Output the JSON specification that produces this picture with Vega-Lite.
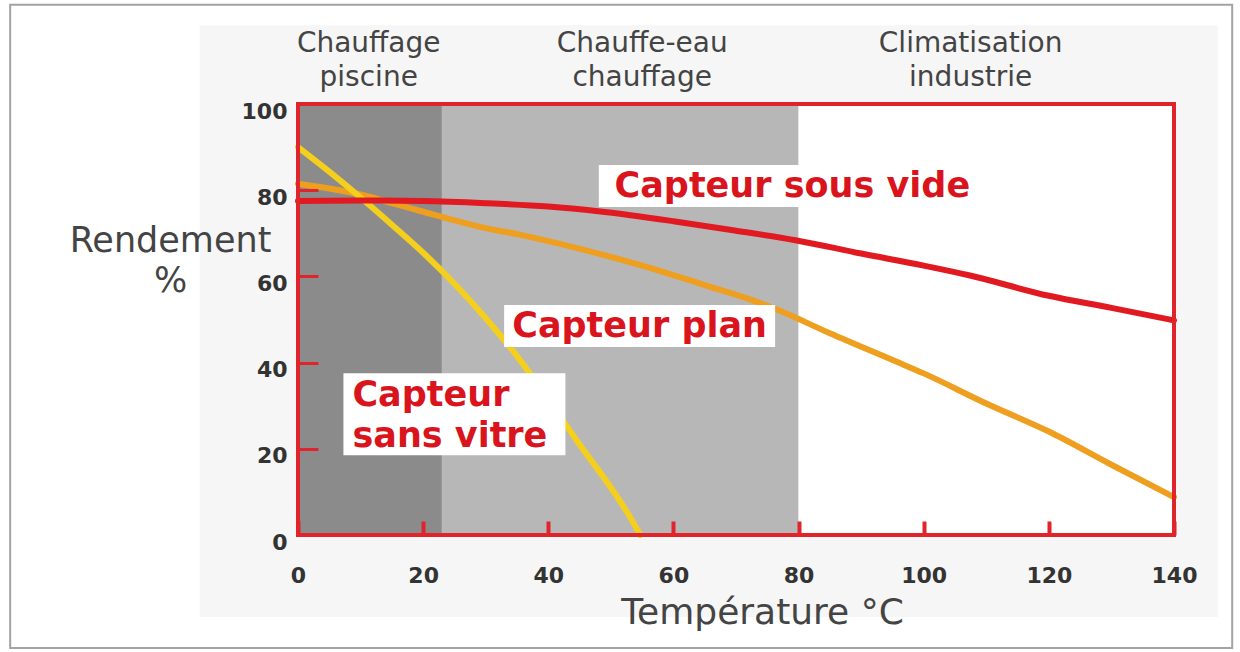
{
  "$schema": "https://vega.github.io/schema/vega-lite/v6.json",
  "width": 876,
  "height": 431,
  "autosize": {"type": "none"},
  "padding": {"left": 298, "top": 104, "right": 66, "bottom": 117},
  "background": "white",
  "config": {"view": {"stroke": null}, "font": "DejaVu Sans"},
  "datasets": {
    "courbes": [
      {"capteur": "Capteur plan", "T": 0, "rendement": 81.5},
      {"capteur": "Capteur plan", "T": 5, "rendement": 80.4},
      {"capteur": "Capteur plan", "T": 10, "rendement": 79},
      {"capteur": "Capteur plan", "T": 15, "rendement": 77},
      {"capteur": "Capteur plan", "T": 20, "rendement": 75},
      {"capteur": "Capteur plan", "T": 25, "rendement": 73},
      {"capteur": "Capteur plan", "T": 30, "rendement": 71.2},
      {"capteur": "Capteur plan", "T": 35, "rendement": 69.8},
      {"capteur": "Capteur plan", "T": 40, "rendement": 68.2},
      {"capteur": "Capteur plan", "T": 48, "rendement": 65.3},
      {"capteur": "Capteur plan", "T": 55, "rendement": 62.5},
      {"capteur": "Capteur plan", "T": 60, "rendement": 60.3},
      {"capteur": "Capteur plan", "T": 65, "rendement": 58},
      {"capteur": "Capteur plan", "T": 71.8, "rendement": 54.9},
      {"capteur": "Capteur plan", "T": 77.2, "rendement": 51.9},
      {"capteur": "Capteur plan", "T": 85, "rendement": 46.8},
      {"capteur": "Capteur plan", "T": 95.5, "rendement": 40.3},
      {"capteur": "Capteur plan", "T": 100, "rendement": 37.5},
      {"capteur": "Capteur plan", "T": 110, "rendement": 30.5},
      {"capteur": "Capteur plan", "T": 120, "rendement": 24},
      {"capteur": "Capteur plan", "T": 130, "rendement": 16.3},
      {"capteur": "Capteur plan", "T": 140, "rendement": 8.8},
      {"capteur": "Capteur sans vitre", "T": 0, "rendement": 90},
      {"capteur": "Capteur sans vitre", "T": 5, "rendement": 84.3},
      {"capteur": "Capteur sans vitre", "T": 10, "rendement": 78.3},
      {"capteur": "Capteur sans vitre", "T": 15, "rendement": 72},
      {"capteur": "Capteur sans vitre", "T": 20, "rendement": 65.5},
      {"capteur": "Capteur sans vitre", "T": 25, "rendement": 58.3},
      {"capteur": "Capteur sans vitre", "T": 30, "rendement": 50.3},
      {"capteur": "Capteur sans vitre", "T": 35, "rendement": 41.5},
      {"capteur": "Capteur sans vitre", "T": 40, "rendement": 31.5},
      {"capteur": "Capteur sans vitre", "T": 45, "rendement": 21},
      {"capteur": "Capteur sans vitre", "T": 50, "rendement": 11},
      {"capteur": "Capteur sans vitre", "T": 52.5, "rendement": 5.5},
      {"capteur": "Capteur sans vitre", "T": 54.7, "rendement": 0},
      {"capteur": "Capteur sous vide", "T": 0, "rendement": 77.5},
      {"capteur": "Capteur sous vide", "T": 10, "rendement": 77.6},
      {"capteur": "Capteur sous vide", "T": 20, "rendement": 77.5},
      {"capteur": "Capteur sous vide", "T": 30, "rendement": 77},
      {"capteur": "Capteur sous vide", "T": 40, "rendement": 76.2},
      {"capteur": "Capteur sous vide", "T": 48, "rendement": 75.1},
      {"capteur": "Capteur sous vide", "T": 60, "rendement": 72.8},
      {"capteur": "Capteur sous vide", "T": 70, "rendement": 70.6},
      {"capteur": "Capteur sous vide", "T": 79.5, "rendement": 68.4},
      {"capteur": "Capteur sous vide", "T": 90, "rendement": 65.3},
      {"capteur": "Capteur sous vide", "T": 100, "rendement": 62.5},
      {"capteur": "Capteur sous vide", "T": 107.4, "rendement": 60.2},
      {"capteur": "Capteur sous vide", "T": 120, "rendement": 55.5},
      {"capteur": "Capteur sous vide", "T": 130, "rendement": 52.7},
      {"capteur": "Capteur sous vide", "T": 140, "rendement": 49.8}
    ],
    "usages": [
      {"usage": "Chauffage\npiscine", "de": 0, "a": 23, "centre": 11.3},
      {"usage": "Chauffe-eau\nchauffage", "de": 23, "a": 80, "centre": 55},
      {"usage": "Climatisation\nindustrie", "de": 80, "a": 140, "centre": 107.5}
    ],
    "etiquettes": [
      {"nom": "Capteur sous vide", "texte": "Capteur sous vide", "T": 79, "rendement": 81},
      {"nom": "Capteur plan", "texte": "Capteur plan", "T": 54.6, "rendement": 48.5},
      {"nom": "Capteur sans vitre", "texte": "Capteur\nsans vitre", "T": 25, "rendement": 28}
    ]
  },
  "layer": [
    {
      "data": {"values": [{}]},
      "mark": {"type": "rect", "fill": "white", "stroke": "#a3a3a3", "strokeWidth": 2},
      "encoding": {
        "x": {"datum": -46, "type": "quantitative", "scale": {"domain": [0, 140], "nice": false, "zero": false}, "title": "Température °C"},
        "x2": {"datum": 149.3},
        "y": {"datum": 123, "type": "quantitative", "scale": {"domain": [0, 100], "nice": false, "zero": false}, "title": ["Rendement", "%"]},
        "y2": {"datum": -26.2}
      }
    },
    {
      "data": {"values": [{}]},
      "mark": {"type": "rect", "fill": "#f6f6f6"},
      "encoding": {
        "x": {"datum": -15.7, "type": "quantitative", "scale": {"domain": [0, 140], "nice": false, "zero": false}, "title": "Température °C"},
        "x2": {"datum": 147},
        "y": {"datum": 118.3, "type": "quantitative", "scale": {"domain": [0, 100], "nice": false, "zero": false}, "title": ["Rendement", "%"]},
        "y2": {"datum": -19}
      }
    },
    {
      "data": {"name": "usages"},
      "mark": {"type": "rect"},
      "encoding": {
        "x": {"field": "de", "type": "quantitative", "scale": {"domain": [0, 140], "nice": false, "zero": false}, "title": "Température °C"},
        "x2": {"field": "a"},
        "fill": {"field": "usage", "type": "nominal", "scale": {"domain": ["Chauffage\npiscine", "Chauffe-eau\nchauffage", "Climatisation\nindustrie"], "range": ["#8b8b8b", "#b7b7b7", "#ffffff"]}, "legend": null}
      }
    },
    {
      "data": {"name": "courbes"},
      "mark": {"type": "line", "strokeWidth": 6, "interpolate": "monotone", "strokeCap": "round"},
      "encoding": {
        "x": {
          "field": "T", "type": "quantitative",
          "scale": {"domain": [0, 140], "nice": false, "zero": false},
          "title": "Température °C",
          "axis": {
            "values": [0, 20, 40, 60, 80, 100, 120, 140],
            "domain": false, "grid": false,
            "tickSize": -14, "tickWidth": 4, "tickColor": "#e0242b",
            "labelPadding": 44, "labelFont": "DejaVu Sans", "labelFontWeight": "bold", "labelFontSize": 22, "labelColor": "#333333",
            "labelFlush": false, "labelOverlap": false,
            "titleFont": "DejaVu Sans", "titleFontSize": 36, "titleFontWeight": "normal", "titleColor": "#444444",
            "titleX": 464, "titleY": 77, "titleAlign": "center", "titleBaseline": "middle",
            "zindex": 1
          }
        },
        "y": {
          "field": "rendement", "type": "quantitative",
          "scale": {"domain": [0, 100], "nice": false, "zero": false},
          "title": ["Rendement", "%"],
          "axis": {
            "values": [0, 20, 40, 60, 80, 100],
            "domain": false, "grid": false,
            "tickSize": -20, "tickWidth": 3, "tickColor": "#e0242b",
            "labelPadding": 31, "labelOffset": 7, "labelFont": "DejaVu Sans", "labelFontWeight": "bold", "labelFontSize": 22, "labelColor": "#333333",
            "labelFlush": false, "labelOverlap": false,
            "titleFont": "DejaVu Sans", "titleFontSize": 35, "titleFontWeight": "normal", "titleColor": "#444444",
            "titleAngle": 0, "titleX": -128, "titleY": 136, "titleAlign": "center", "titleBaseline": "middle", "titleLineHeight": 40,
            "zindex": 1
          }
        },
        "color": {
          "field": "capteur", "type": "nominal",
          "scale": {"domain": ["Capteur plan", "Capteur sans vitre", "Capteur sous vide"], "range": ["#ef9f1f", "#f4cf1d", "#e11a22"]},
          "legend": null
        }
      }
    },
    {
      "data": {"values": [{}]},
      "mark": {"type": "rect", "filled": false, "stroke": "#e0242b", "strokeWidth": 4},
      "encoding": {
        "x": {"datum": 0, "type": "quantitative", "scale": {"domain": [0, 140], "nice": false, "zero": false}, "title": "Température °C"},
        "x2": {"datum": 140},
        "y": {"datum": 0, "type": "quantitative", "scale": {"domain": [0, 100], "nice": false, "zero": false}, "title": ["Rendement", "%"]},
        "y2": {"datum": 100}
      }
    },
    {
      "data": {"name": "usages"},
      "mark": {"type": "text", "lineBreak": "\n", "lineHeight": 34, "fontSize": 28, "font": "DejaVu Sans", "color": "#444444", "baseline": "alphabetic", "align": "center"},
      "encoding": {
        "x": {"field": "centre", "type": "quantitative", "scale": {"domain": [0, 140], "nice": false, "zero": false}, "title": "Température °C"},
        "y": {"datum": 112.1, "type": "quantitative", "scale": {"domain": [0, 100], "nice": false, "zero": false}, "title": ["Rendement", "%"]},
        "text": {"field": "usage"}
      }
    },
    {
      "data": {"name": "etiquettes"},
      "transform": [{"filter": "datum.nom === 'Capteur sous vide'"}],
      "mark": {"type": "rect", "fill": "white", "width": 387, "height": 42},
      "encoding": {
        "x": {"field": "T", "type": "quantitative", "scale": {"domain": [0, 140], "nice": false, "zero": false}, "title": "Température °C"},
        "y": {"field": "rendement", "type": "quantitative", "scale": {"domain": [0, 100], "nice": false, "zero": false}, "title": ["Rendement", "%"]}
      }
    },
    {
      "data": {"name": "etiquettes"},
      "transform": [{"filter": "datum.nom === 'Capteur plan'"}],
      "mark": {"type": "rect", "fill": "white", "width": 271, "height": 42},
      "encoding": {
        "x": {"field": "T", "type": "quantitative", "scale": {"domain": [0, 140], "nice": false, "zero": false}, "title": "Température °C"},
        "y": {"field": "rendement", "type": "quantitative", "scale": {"domain": [0, 100], "nice": false, "zero": false}, "title": ["Rendement", "%"]}
      }
    },
    {
      "data": {"name": "etiquettes"},
      "transform": [{"filter": "datum.nom === 'Capteur sans vitre'"}],
      "mark": {"type": "rect", "fill": "white", "width": 222, "height": 82},
      "encoding": {
        "x": {"field": "T", "type": "quantitative", "scale": {"domain": [0, 140], "nice": false, "zero": false}, "title": "Température °C"},
        "y": {"field": "rendement", "type": "quantitative", "scale": {"domain": [0, 100], "nice": false, "zero": false}, "title": ["Rendement", "%"]}
      }
    },
    {
      "data": {"name": "etiquettes"},
      "transform": [{"filter": "datum.nom !== 'Capteur sans vitre'"}],
      "mark": {"type": "text", "fontSize": 35, "font": "DejaVu Sans", "fontWeight": "bold", "color": "#d9141c", "baseline": "middle", "align": "center"},
      "encoding": {
        "x": {"field": "T", "type": "quantitative", "scale": {"domain": [0, 140], "nice": false, "zero": false}, "title": "Température °C"},
        "y": {"field": "rendement", "type": "quantitative", "scale": {"domain": [0, 100], "nice": false, "zero": false}, "title": ["Rendement", "%"]},
        "text": {"field": "texte"}
      }
    },
    {
      "data": {"name": "etiquettes"},
      "transform": [{"filter": "datum.nom === 'Capteur sans vitre'"}],
      "mark": {"type": "text", "lineBreak": "\n", "lineHeight": 41, "fontSize": 35, "font": "DejaVu Sans", "fontWeight": "bold", "color": "#d9141c", "baseline": "middle", "align": "left", "dx": -102, "dy": -19},
      "encoding": {
        "x": {"field": "T", "type": "quantitative", "scale": {"domain": [0, 140], "nice": false, "zero": false}, "title": "Température °C"},
        "y": {"field": "rendement", "type": "quantitative", "scale": {"domain": [0, 100], "nice": false, "zero": false}, "title": ["Rendement", "%"]},
        "text": {"field": "texte"}
      }
    }
  ]
}
